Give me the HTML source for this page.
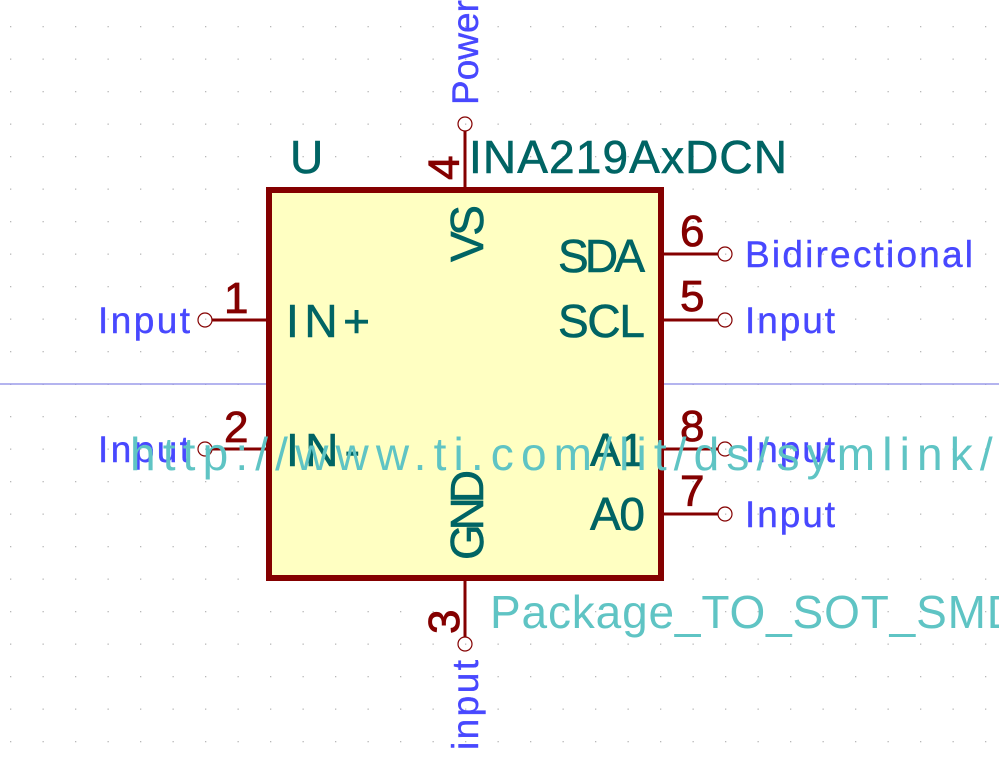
<!DOCTYPE html>
<html><head><meta charset="utf-8"><style>
html,body{margin:0;padding:0;background:#fff;width:999px;height:769px;overflow:hidden}
svg{display:block}
text{font-family:"Liberation Sans",sans-serif}
.pn{fill:#840000;font-size:44px;stroke:#840000;stroke-width:0.8}
.nm{fill:#006464;font-size:46px;stroke:#006464;stroke-width:0.6}
.ty{fill:#4848ff;font-size:37px;stroke:#4848ff;stroke-width:0.4}
.fd{fill:#5fc4c4;font-size:46px}
</style></head><body>
<svg width="999" height="769" viewBox="0 0 999 769">
<g id="grid"></g>
<line x1="0" y1="384" x2="999" y2="384" stroke="#6a6adf" stroke-width="1"/>
<g stroke="#840000" stroke-width="3" fill="none">
<line x1="465" y1="131" x2="465" y2="190"/><circle cx="465" cy="124" r="7" stroke-width="1.2"/>
<line x1="465" y1="578" x2="465" y2="637"/><circle cx="465" cy="644" r="7" stroke-width="1.2"/>
<line x1="212" y1="320" x2="269" y2="320"/><circle cx="205" cy="320" r="7" stroke-width="1.2"/>
<line x1="212" y1="449" x2="269" y2="449"/><circle cx="205" cy="449" r="7" stroke-width="1.2"/>
<line x1="661" y1="254" x2="718" y2="254"/><circle cx="725" cy="254" r="7" stroke-width="1.2"/>
<line x1="661" y1="320" x2="718" y2="320"/><circle cx="725" cy="320" r="7" stroke-width="1.2"/>
<line x1="661" y1="449" x2="718" y2="449"/><circle cx="725" cy="449" r="7" stroke-width="1.2"/>
<line x1="661" y1="514" x2="718" y2="514"/><circle cx="725" cy="514" r="7" stroke-width="1.2"/>
</g>
<rect x="269" y="190" width="392" height="388" fill="#ffffc2" stroke="#840000" stroke-width="6"/>
<text class="nm" x="290" y="173" textLength="28">U</text>
<text class="nm" x="469" y="173" textLength="318">INA219AxDCN</text>
<text class="nm" x="286" y="337" textLength="84">IN+</text>
<text class="nm" x="286" y="466" textLength="74">IN-</text>
<text class="nm" x="558" y="272" textLength="87">SDA</text>
<text class="nm" x="558" y="337" textLength="87">SCL</text>
<text class="nm" x="590" y="466" textLength="55">A1</text>
<text class="nm" x="590" y="530" textLength="55">A0</text>
<text class="nm" transform="translate(483,262) rotate(-90)" textLength="57">VS</text>
<text class="nm" transform="translate(483,560) rotate(-90)" textLength="90">GND</text>
<text class="pn" x="224" y="313">1</text>
<text class="pn" x="224" y="442">2</text>
<text class="pn" x="680" y="246">6</text>
<text class="pn" x="680" y="311">5</text>
<text class="pn" x="680" y="441">8</text>
<text class="pn" x="680" y="506">7</text>
<text class="pn" transform="translate(459,180) rotate(-90)">4</text>
<text class="pn" transform="translate(459,634) rotate(-90)">3</text>
<text class="ty" x="98" y="333" textLength="92">Input</text>
<text class="ty" x="98" y="462" textLength="92">Input</text>
<text class="ty" x="745" y="267" textLength="228">Bidirectional</text>
<text class="ty" x="745" y="333" textLength="90">Input</text>
<text class="ty" x="745" y="462" textLength="90">Input</text>
<text class="ty" x="745" y="527" textLength="90">Input</text>
<text class="ty" transform="translate(478,105) rotate(-90)" textLength="105">Power</text>
<text class="ty" transform="translate(478,750) rotate(-90)" textLength="90">input</text>
<text class="fd" x="130" y="470" textLength="880">http://www.ti.com/lit/ds/symlink/i</text>
<text class="fd" x="490" y="628" textLength="530">Package_TO_SOT_SMD</text>
</svg>
<script>
var g=document.getElementById('grid');
for(var x=10;x<999;x+=32.5){for(var y=26;y<769;y+=32.5){
var c=document.createElementNS('http://www.w3.org/2000/svg','rect');
c.setAttribute('x',x.toFixed(1));c.setAttribute('y',y.toFixed(1));c.setAttribute('width','1.3');c.setAttribute('height','1.3');c.setAttribute('fill','#b8b8b8');


g.appendChild(c);}}
</script>
</body></html>
